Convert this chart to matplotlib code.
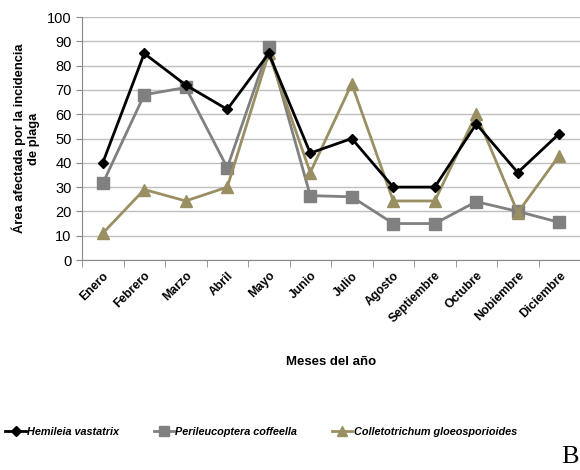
import matplotlib.pyplot as plt
import numpy as np
from matplotlib.ticker import FixedLocator

plt.rcParams['font.family'] = ['Liberation Sans', 'DejaVu Sans']

# Meses y valores por especie (% de área afectada)
meses = ['Enero', 'Febrero', 'Marzo', 'Abril', 'Mayo', 'Junio', 'Julio', 'Agosto',
         'Septiembre', 'Octubre', 'Nobiembre', 'Diciembre']
hemileia = [40, 85, 72, 62, 85, 44, 50, 30, 30, 56, 36, 52]
perileucoptera = [31.5, 68, 71, 38, 87.5, 26.5, 26, 15, 15, 24, 20, 15.5]
colletotrichum = [11, 29, 24.3, 30, 85, 36, 72.5, 24.3, 24.3, 60, 19.5, 43]

fig = plt.figure(figsize=(5.8, 4.7), dpi=100)
ax = fig.add_axes([0.1414, 0.4468, 0.8586, 0.517])

x = np.arange(len(meses))
ax.plot(x, hemileia, color='black', lw=2, marker='D', ms=5.5, label='Hemileia vastatrix', zorder=4)
ax.plot(x, perileucoptera, color='#808080', lw=2, marker='s', ms=8, label='Perileucoptera coffeella', zorder=3)
ax.plot(x, colletotrichum, color='#9a8f62', lw=2, marker='^', ms=8, label='Colletotrichum gloeosporioides', zorder=3)

ax.set_xlim(-0.5, len(meses) - 0.5)
ax.set_ylim(0, 100)
ax.set_yticks(range(0, 101, 10))
ax.yaxis.grid(True, color='#bfbfbf', lw=1)
ax.set_axisbelow(True)

# marcas del eje x entre categorías, estilo Excel
ax.set_xticks(x)
ax.set_xticklabels(meses, rotation=45, ha='right', rotation_mode='anchor',
                   fontsize=8.8, fontweight='bold')
ax.tick_params(axis='x', length=0, pad=7)
ax.xaxis.set_minor_locator(FixedLocator(np.arange(-0.5, len(meses), 1)))
ax.tick_params(axis='x', which='minor', length=5, color='#888888')
ax.tick_params(axis='y', length=4, color='#888888', labelsize=10.5)

for s in ['top', 'right']:
    ax.spines[s].set_visible(False)
for s in ['left', 'bottom']:
    ax.spines[s].set_color('#888888')

ax.set_ylabel('Área afectada por la incidencia\nde plaga', fontsize=9.3, fontweight='bold', labelpad=5)
ax.set_xlabel('Meses del año', fontsize=9.5, fontweight='bold', labelpad=22)

leg = fig.legend(loc='center', bbox_to_anchor=(0.45, 0.081), ncol=3, frameon=False,
                 handlelength=1.9, handletextpad=0.1, columnspacing=3.2, markerscale=0.9,
                 prop={'style': 'italic', 'weight': 'bold', 'size': 7.8})

fig.text(0.997, 0.005, 'B', fontsize=19, family='Liberation Serif', ha='right', va='bottom')

fig.savefig('out.png', dpi=100)
